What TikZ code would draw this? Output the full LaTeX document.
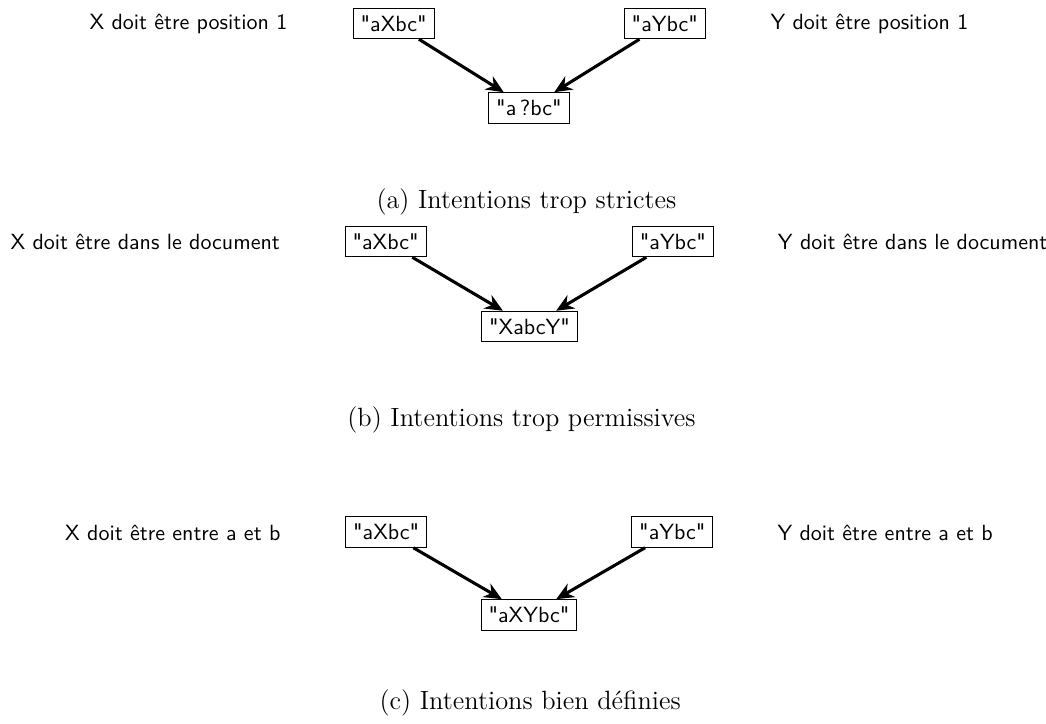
\documentclass[tikz,border=0pt]{standalone}
\usepackage{fontspec}
\newfontfamily\chainefont{lmsans10-regular.otf}[Ligatures=TeXOff]
\usepackage{tikz}
\usetikzlibrary{arrows.meta}

\begin{document}
\begin{tikzpicture}[
    >={Stealth[length=8pt, width=7pt]},
    chaine/.style={draw, font=\chainefont},
    intention/.style={font=\sffamily},
    fleche/.style={->, line width=1.4pt},
    legende/.style={font=\large}]
  \useasboundingbox (0,0) rectangle (16.71,-11.565);

  % (a) trop strictes
  \node[chaine] (aX) at (6.29,-0.375) {"aXbc"};
  \node[chaine] (aY) at (10.62,-0.375) {"aYbc"};
  \node[chaine] (aR) at (8.45,-1.725) {"a\,?bc"};
  \draw[fleche] (aX) -- (aR);
  \draw[fleche] (aY) -- (aR);
  \node[intention] (aIX) at (3.01,-0.39) {X doit être position 1};
  \node[intention] (aIY) at (13.89,-0.39) {Y doit être position 1};
  \node[legende] (aCap) at (8.41,-3.23) {(a) Intentions trop strictes};

  % (b) trop permissives
  \node[chaine] (bX) at (6.16,-3.858) {"aXbc"};
  \node[chaine] (bY) at (10.75,-3.858) {"aYbc"};
  \node[chaine] (bR) at (8.46,-5.216) {"XabcY"};
  \draw[fleche] (bX) -- (bR);
  \draw[fleche] (bY) -- (bR);
  \node[intention] (bIX) at (2.32,-3.87) {X doit être dans le document};
  \node[intention] (bIY) at (14.58,-3.87) {Y doit être dans le document};
  \node[legende] (bCap) at (8.33,-6.71) {(b) Intentions trop permissives};

  % (c) bien definies
  \node[chaine] (cX) at (6.17,-8.498) {"aXbc"};
  \node[chaine] (cY) at (10.74,-8.498) {"aYbc"};
  \node[chaine] (cR) at (8.45,-9.824) {"aXYbc"};
  \draw[fleche] (cX) -- (cR);
  \draw[fleche] (cY) -- (cR);
  \node[intention] (cIX) at (2.76,-8.51) {X doit être entre a et b};
  \node[intention] (cIY) at (14.14,-8.51) {Y doit être entre a et b};
  \node[legende] (cCap) at (8.47,-11.23) {(c) Intentions bien définies};
\end{tikzpicture}
\end{document}
